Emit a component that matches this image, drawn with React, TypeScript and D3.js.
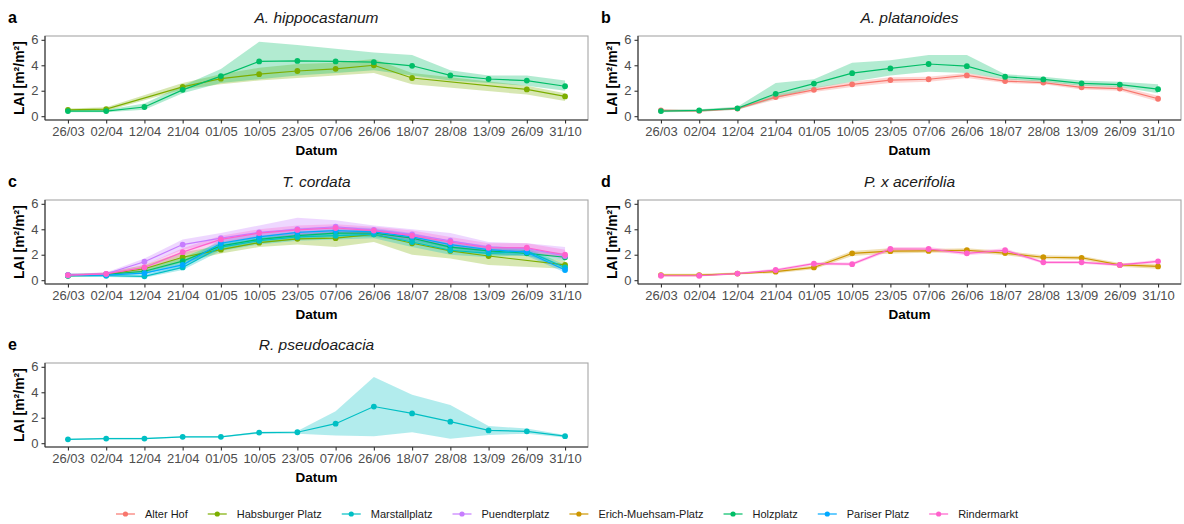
import React, { useEffect, useRef } from "react";
import * as d3 from "d3";

// Sampling dates (day/month)
const dates = ["26/03", "02/04", "12/04", "21/04", "01/05", "10/05", "23/05", "07/06", "26/06", "18/07", "28/08", "13/09", "26/09", "31/10"];
const yTicks = [0, 2, 4, 6];

// Sites in legend order, with their colours
const sites = ["Alter Hof", "Habsburger Platz", "Marstallplatz", "Puendterplatz", "Erich-Muehsam-Platz", "Holzplatz", "Pariser Platz", "Rindermarkt"];
const siteColors = ["#F8766D", "#7CAE00", "#00BFC4", "#C77CFF", "#CD9600", "#00BE67", "#00A9FF", "#FF61CC"];

type V = number | null;

// a: A. hippocastanum
const hippoHabsMean: V[] = [0.5, 0.55, null, 2.3, 2.95, 3.3, 3.55, 3.72, 4.0, 3.0, null, null, 2.1, 1.55];
const hippoHabsLo: V[] = [0.4, 0.4, null, 2.1, 2.5, 2.8, 3.0, 3.2, 3.4, 2.5, null, null, 1.7, 1.2];
const hippoHabsHi: V[] = [0.6, 0.7, null, 2.6, 3.3, 3.8, 4.1, 4.2, 4.5, 3.4, null, null, 2.4, 1.8];
const hippoHolzMean: V[] = [0.4, 0.4, 0.72, 2.07, 3.15, 4.3, 4.34, 4.3, 4.24, 3.96, 3.2, 2.92, 2.8, 2.35];
const hippoHolzLo: V[] = [0.3, 0.3, 0.5, 1.8, 2.6, 2.9, 3.2, 3.4, 3.6, 3.2, 2.8, 2.6, 2.4, 2.0];
const hippoHolzHi: V[] = [0.5, 0.5, 1.0, 2.4, 3.7, 5.85, 5.6, 5.3, 5.0, 4.8, 3.6, 3.2, 3.2, 2.8];

// b: A. platanoides
const platAlterMean: V[] = [0.45, 0.42, 0.6, 1.5, 2.07, 2.5, 2.84, 2.9, 3.2, 2.76, 2.64, 2.27, 2.17, 1.37];
const platAlterLo: V[] = [0.35, 0.35, 0.5, 1.3, 1.9, 2.3, 2.6, 2.7, 3.0, 2.6, 2.5, 2.1, 2.0, 1.15];
const platAlterHi: V[] = [0.55, 0.5, 0.7, 1.7, 2.25, 2.7, 3.05, 3.1, 3.4, 2.95, 2.8, 2.45, 2.35, 1.6];
const platHolzMean: V[] = [0.4, 0.45, 0.62, 1.76, 2.56, 3.38, 3.75, 4.1, 3.93, 3.1, 2.89, 2.58, 2.48, 2.12];
const platHolzLo: V[] = [0.3, 0.35, 0.5, 1.4, 2.2, 2.7, 3.2, 3.5, 3.4, 2.9, 2.7, 2.4, 2.3, 1.8];
const platHolzHi: V[] = [0.5, 0.55, 0.75, 2.6, 2.9, 4.2, 4.4, 4.8, 4.8, 3.3, 3.1, 2.8, 2.7, 2.5];

// c: T. cordata
const cordHabsMean: V[] = [0.35, 0.45, 0.9, 1.8, 2.4, 2.95, 3.25, 3.3, 3.6, 2.9, 2.3, 1.9, null, 1.2];
const cordHabsLo: V[] = [0.25, 0.35, 0.6, 1.4, 2.1, 2.6, 2.8, 2.6, 3.0, 2.0, 1.7, 1.2, null, 0.9];
const cordHabsHi: V[] = [0.45, 0.6, 1.2, 2.2, 2.7, 3.3, 3.6, 3.8, 4.0, 3.4, 2.8, 2.4, null, 1.5];
const cordMarsMean: V[] = [0.35, 0.35, 0.3, 1.0, 2.6, 3.1, 3.4, 3.5, 3.6, 3.0, 2.35, 2.1, 2.3, 1.0];
const cordMarsLo: V[] = [0.25, 0.25, 0.2, 0.8, 2.3, 2.8, 3.1, 3.2, 3.3, 2.6, 2.0, 1.8, 2.0, 0.8];
const cordMarsHi: V[] = [0.45, 0.45, 0.4, 1.2, 2.9, 3.4, 3.7, 3.8, 3.9, 3.3, 2.7, 2.4, 2.6, 1.2];
const cordPuenMean: V[] = [0.4, 0.5, 1.45, 2.8, 3.3, 3.75, 4.0, 4.2, 3.95, 3.6, 3.1, 2.6, 2.5, 1.9];
const cordPuenLo: V[] = [0.3, 0.4, 1.2, 2.4, 3.0, 3.4, 3.5, 3.7, 3.6, 3.2, 2.7, 2.3, 2.2, 1.6];
const cordPuenHi: V[] = [0.5, 0.6, 1.7, 3.2, 3.7, 4.3, 4.9, 4.7, 4.3, 4.0, 3.7, 3.0, 2.9, 2.6];
const cordHolzMean: V[] = [0.4, 0.45, 0.7, 1.5, 2.7, 3.2, 3.5, 3.7, 3.7, 3.3, 2.6, 2.3, 2.1, 1.8];
const cordHolzLo: V[] = [0.3, 0.35, 0.5, 1.2, 2.4, 2.9, 3.2, 3.4, 3.4, 3.0, 2.3, 2.0, 1.9, 1.5];
const cordHolzHi: V[] = [0.5, 0.55, 0.9, 1.8, 3.0, 3.5, 3.8, 4.0, 4.0, 3.6, 2.9, 2.6, 2.4, 2.1];
const cordParMean: V[] = [0.4, 0.4, 0.55, 1.2, 2.9, 3.4, 3.75, 3.9, 3.8, 3.4, 2.8, 2.4, 2.2, 0.8];
const cordParLo: V[] = [0.3, 0.3, 0.4, 1.0, 2.6, 3.1, 3.4, 3.6, 3.5, 3.1, 2.5, 2.1, 1.9, 0.6];
const cordParHi: V[] = [0.5, 0.5, 0.7, 1.4, 3.2, 3.7, 4.1, 4.2, 4.1, 3.7, 3.1, 2.7, 2.5, 1.0];
const cordRindMean: V[] = [0.4, 0.5, 1.0, 2.2, 3.2, 3.7, 3.95, 4.1, 3.9, 3.5, 3.0, 2.55, 2.55, 2.0];
const cordRindLo: V[] = [0.3, 0.4, 0.8, 1.9, 2.9, 3.4, 3.6, 3.8, 3.6, 3.2, 2.7, 2.3, 2.3, 1.7];
const cordRindHi: V[] = [0.5, 0.6, 1.2, 2.5, 3.5, 4.0, 4.3, 4.4, 4.2, 3.9, 3.4, 2.9, 2.9, 2.4];

// d: P. x acerifolia
const aceErichMean: V[] = [0.4, 0.4, 0.52, 0.67, 1.0, 2.1, 2.28, 2.3, 2.35, 2.12, 1.8, 1.76, 1.2, 1.08];
const aceErichLo: V[] = [0.3, 0.3, 0.45, 0.55, 0.85, 1.9, 2.1, 2.15, 2.2, 1.95, 1.65, 1.6, 1.05, 0.9];
const aceErichHi: V[] = [0.5, 0.5, 0.6, 0.8, 1.15, 2.3, 2.5, 2.45, 2.5, 2.3, 1.95, 1.9, 1.35, 1.25];
const aceRindMean: V[] = [0.35, 0.35, 0.52, 0.8, 1.3, 1.26, 2.45, 2.45, 2.1, 2.35, 1.4, 1.4, 1.2, 1.48];
const aceRindLo: V[] = [0.28, 0.28, 0.45, 0.7, 1.2, 1.15, 2.3, 2.3, 1.95, 2.2, 1.3, 1.3, 1.1, 1.35];
const aceRindHi: V[] = [0.42, 0.42, 0.6, 0.9, 1.4, 1.38, 2.6, 2.6, 2.25, 2.5, 1.5, 1.5, 1.3, 1.6];

// e: R. pseudoacacia
const robMarsMean: V[] = [0.3, 0.36, 0.36, 0.5, 0.5, 0.83, 0.86, 1.53, 2.88, 2.34, 1.69, 1.0, 0.93, 0.55];
const robMarsLo: V[] = [0.25, 0.3, 0.3, 0.45, 0.45, 0.75, 0.75, 0.6, 0.55, 0.85, 0.35, 0.65, 0.75, 0.45];
const robMarsHi: V[] = [0.35, 0.42, 0.42, 0.55, 0.55, 0.9, 0.95, 2.5, 5.2, 3.8, 3.0, 1.35, 1.15, 0.65];

type Series = { site: string; mean: V[]; lo: V[]; hi: V[] };
type Panel = { letter: string; title: string; col: number; row: number; series: Series[] };

const panels: Panel[] = [
  {
    letter: "a", title: "A. hippocastanum", col: 0, row: 0,
    series: [
      { site: "Habsburger Platz", mean: hippoHabsMean, lo: hippoHabsLo, hi: hippoHabsHi },
      { site: "Holzplatz", mean: hippoHolzMean, lo: hippoHolzLo, hi: hippoHolzHi },
    ],
  },
  {
    letter: "b", title: "A. platanoides", col: 1, row: 0,
    series: [
      { site: "Alter Hof", mean: platAlterMean, lo: platAlterLo, hi: platAlterHi },
      { site: "Holzplatz", mean: platHolzMean, lo: platHolzLo, hi: platHolzHi },
    ],
  },
  {
    letter: "c", title: "T. cordata", col: 0, row: 1,
    series: [
      { site: "Habsburger Platz", mean: cordHabsMean, lo: cordHabsLo, hi: cordHabsHi },
      { site: "Holzplatz", mean: cordHolzMean, lo: cordHolzLo, hi: cordHolzHi },
      { site: "Marstallplatz", mean: cordMarsMean, lo: cordMarsLo, hi: cordMarsHi },
      { site: "Pariser Platz", mean: cordParMean, lo: cordParLo, hi: cordParHi },
      { site: "Puendterplatz", mean: cordPuenMean, lo: cordPuenLo, hi: cordPuenHi },
      { site: "Rindermarkt", mean: cordRindMean, lo: cordRindLo, hi: cordRindHi },
    ],
  },
  {
    letter: "d", title: "P. x acerifolia", col: 1, row: 1,
    series: [
      { site: "Erich-Muehsam-Platz", mean: aceErichMean, lo: aceErichLo, hi: aceErichHi },
      { site: "Rindermarkt", mean: aceRindMean, lo: aceRindLo, hi: aceRindHi },
    ],
  },
  {
    letter: "e", title: "R. pseudoacacia", col: 0, row: 2,
    series: [{ site: "Marstallplatz", mean: robMarsMean, lo: robMarsLo, hi: robMarsHi }],
  },
];

const W = 1184;
const H = 524;
const FONT = "'Liberation Sans', Arial, Helvetica, sans-serif";
const colLeft = [45, 638];
const panelW = 543;
const rowTop = [36, 200, 363];
const panelH = 84;

const color = d3.scaleOrdinal<string, string>().domain(sites).range(siteColors);

export default function App() {
  const ref = useRef<SVGSVGElement | null>(null);

  useEffect(() => {
    const svg = d3.select(ref.current);
    svg.selectAll("*").remove();

    panels.forEach((p) => {
      const x0 = colLeft[p.col];
      const y0 = rowTop[p.row];
      const x = d3.scalePoint<string>().domain(dates).range([x0, x0 + panelW]).padding(0.6);
      const y = d3.scaleLinear().domain([-0.3, 6.3]).range([y0 + panelH, y0]);
      const g = svg.append("g");

      // panel frame
      g.append("rect")
        .attr("x", x0).attr("y", y0).attr("width", panelW).attr("height", panelH)
        .attr("fill", "white").attr("stroke", "#a6a6a6").attr("stroke-width", 1.1);

      const rows = (s: Series) =>
        dates
          .map((d, i) => ({ d, m: s.mean[i], lo: s.lo[i], hi: s.hi[i] }))
          .filter((r) => r.m !== null);

      const area = d3.area<{ d: string; lo: V; hi: V }>()
        .x((r) => x(r.d) as number)
        .y0((r) => y(r.lo as number))
        .y1((r) => y(r.hi as number));
      const line = d3.line<{ d: string; m: V }>()
        .x((r) => x(r.d) as number)
        .y((r) => y(r.m as number));

      const ordered = [...p.series].sort((a, b) => a.site.localeCompare(b.site));
      ordered.forEach((s) => {
        g.append("path").attr("d", area(rows(s)) as string)
          .attr("fill", color(s.site)).attr("fill-opacity", 0.3).attr("stroke", "none");
      });
      ordered.forEach((s) => {
        g.append("path").attr("d", line(rows(s)) as string)
          .attr("fill", "none").attr("stroke", color(s.site)).attr("stroke-width", 1.2);
      });
      ordered.forEach((s) => {
        g.selectAll(null).data(rows(s)).enter().append("circle")
          .attr("cx", (r) => x(r.d) as number).attr("cy", (r) => y(r.m as number))
          .attr("r", 2.9).attr("fill", color(s.site));
      });

      // axes
      const xAxis = d3.axisBottom(x).tickSize(3.5).tickSizeOuter(0).tickPadding(3);
      const gx = g.append("g").attr("transform", `translate(0,${y0 + panelH})`).call(xAxis);
      const yAxis = d3.axisLeft(y).tickValues(yTicks).tickFormat(d3.format("d")).tickSize(3.5).tickSizeOuter(0).tickPadding(3);
      const gy = g.append("g").attr("transform", `translate(${x0},0)`).call(yAxis);
      [gx, gy].forEach((ax) => {
        ax.select(".domain").attr("stroke", "#333").attr("stroke-width", 1.1)
          .attr("d", ax === gx ? `M${x0},0H${x0 + panelW}` : `M0,${y0}V${y0 + panelH}`);
        ax.selectAll(".tick line").attr("stroke", "#333").attr("stroke-width", 1.1);
        ax.selectAll(".tick text").attr("fill", "#4d4d4d").style("font-family", FONT).style("font-size", "13px");
      });

      // titles and labels
      g.append("text").attr("x", x0 + panelW / 2).attr("y", y0 - 13)
        .attr("text-anchor", "middle").style("font-family", FONT).style("font-size", "15.5px")
        .style("font-style", "italic").attr("fill", "#1a1a1a").text(p.title);
      g.append("text").attr("x", x0 - 37).attr("y", y0 - 13)
        .style("font-family", FONT).style("font-size", "16px").style("font-weight", "bold")
        .attr("fill", "#000").text(p.letter);
      g.append("text").attr("x", x0 + panelW / 2).attr("y", y0 + panelH + 35)
        .attr("text-anchor", "middle").style("font-family", FONT).style("font-size", "13.5px")
        .style("font-weight", "bold").attr("fill", "#000").text("Datum");
      g.append("text")
        .attr("transform", `translate(${x0 - 21},${y0 + panelH / 2}) rotate(-90)`)
        .attr("text-anchor", "middle").style("font-family", FONT).style("font-size", "14px")
        .style("font-weight", "bold").attr("fill", "#000").text("LAI [m²/m²]");
    });

    // legend
    const lg = svg.append("g");
    const ly = 514;
    const items = sites.map((s) => {
      const it = lg.append("g");
      it.append("line").attr("x1", 0).attr("x2", 19).attr("y1", ly).attr("y2", ly)
        .attr("stroke", color(s)).attr("stroke-width", 1.2);
      it.append("circle").attr("cx", 9.5).attr("cy", ly).attr("r", 2.6).attr("fill", color(s));
      const t = it.append("text").attr("x", 29).attr("y", ly + 4)
        .style("font-family", FONT).style("font-size", "11px").attr("fill", "#1a1a1a").text(s);
      const w = (t.node() as SVGTextElement).getComputedTextLength();
      return { it, w: 29 + w };
    });
    const gap = 20;
    const total = d3.sum(items, (d) => d.w) + gap * (items.length - 1);
    let cx = 567 - total / 2;
    items.forEach((d) => {
      d.it.attr("transform", `translate(${cx},0)`);
      cx += d.w + gap;
    });
  }, []);

  return (
    <svg
      ref={ref}
      width={W}
      height={H}
      style={{ position: "absolute", left: 0, top: 0, background: "white", display: "block" }}
    />
  );
}
